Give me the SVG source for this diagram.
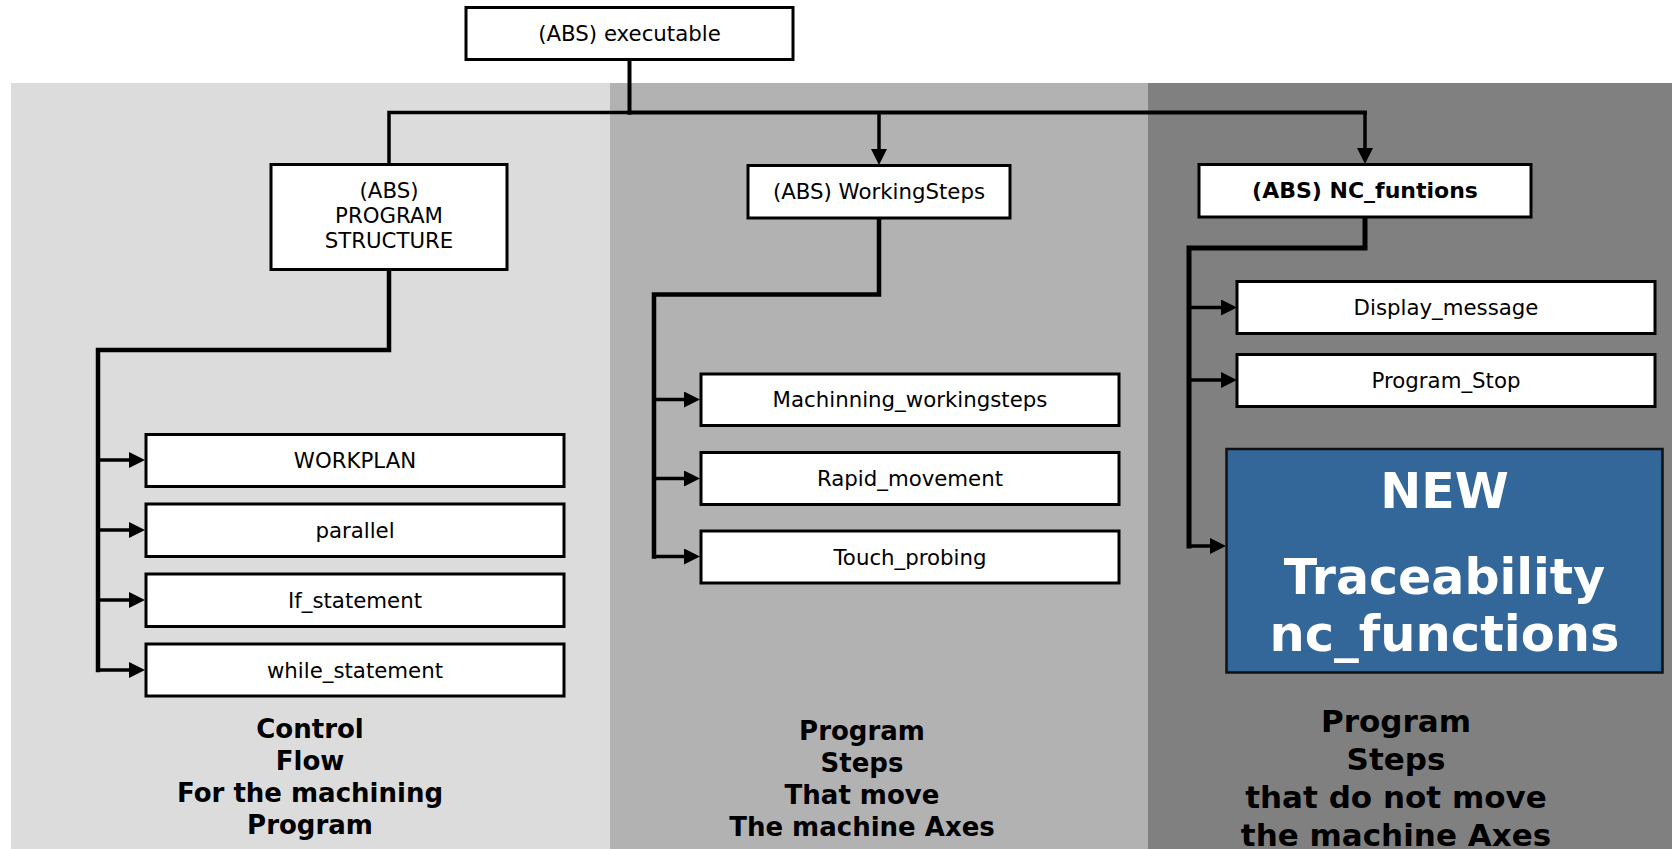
<svg xmlns="http://www.w3.org/2000/svg" width="1672" height="849" viewBox="0 0 1672 849">
<defs>
<style>
.box{fill:#ffffff;stroke:#000000;stroke-width:3}
.lbl{font-family:"DejaVu Sans","Verdana",sans-serif;font-size:21.3px;fill:#000000;text-anchor:middle}
.lblb{font-family:"DejaVu Sans","Verdana",sans-serif;font-size:22px;font-weight:bold;fill:#000000;text-anchor:middle}
.cap{font-family:"DejaVu Sans","Verdana",sans-serif;font-weight:bold;fill:#000000;text-anchor:middle}
.new{font-family:"DejaVu Sans","Verdana",sans-serif;font-weight:bold;font-size:49px;fill:#ffffff;text-anchor:middle}
.ln{fill:none;stroke:#000000;stroke-linejoin:miter;stroke-linecap:square}
.thin{stroke-width:3.5}
.thick{stroke-width:4.5}
.stub{fill:none;stroke:#000000;stroke-width:3.5}
</style>
<marker id="ah" markerUnits="userSpaceOnUse" markerWidth="16" markerHeight="16" refX="6" refY="8" orient="auto">
<path d="M0,0 L16,8 L0,16 z" fill="#000000"/>
</marker>
</defs>

<g id="panels">
<rect x="11" y="83" width="599" height="766" fill="#dcdcdc"/>
<rect x="610" y="83" width="538" height="766" fill="#b2b2b2"/>
<rect x="1148" y="83" width="524" height="766" fill="#808080"/>
</g>

<g id="connectors">
<path class="ln" style="stroke-width:4" d="M629.5,60 V112.5"/>
<path class="ln thin" d="M389,164 V112.5 H629.5"/>
<path class="ln" style="stroke-width:4" d="M629.5,112.5 H1365"/>
<path class="stub" d="M879,112.5 V155" marker-end="url(#ah)"/>
<path class="stub" d="M1365,112.5 V154" marker-end="url(#ah)"/>

<path class="ln thick" d="M389,269 V350 H98 V670"/>
<path class="stub" d="M98,460 H135" marker-end="url(#ah)"/>
<path class="stub" d="M98,530 H135" marker-end="url(#ah)"/>
<path class="stub" d="M98,600 H135" marker-end="url(#ah)"/>
<path class="stub" d="M98,670 H135" marker-end="url(#ah)"/>

<path class="ln thick" d="M879,218 V294.5 H654 V556.5"/>
<path class="stub" d="M654,399.5 H690" marker-end="url(#ah)"/>
<path class="stub" d="M654,478.5 H690" marker-end="url(#ah)"/>
<path class="stub" d="M654,556.5 H690" marker-end="url(#ah)"/>

<path class="ln" style="stroke-width:5" d="M1365,217 V248 H1189 V546"/>
<path class="stub" d="M1189,307.5 H1227" marker-end="url(#ah)"/>
<path class="stub" d="M1189,380 H1227" marker-end="url(#ah)"/>
<path class="stub" d="M1189,546 H1216" marker-end="url(#ah)"/>
</g>

<g id="node-executable">
<rect class="box" x="466" y="7.5" width="327" height="52"/>
<text class="lbl" x="629.5" y="41">(ABS) executable</text>
</g>

<g id="node-program-structure">
<rect class="box" x="271" y="164.5" width="236" height="105"/>
<text class="lbl" x="389" y="197.5">(ABS)</text>
<text class="lbl" x="389" y="223">PROGRAM</text>
<text class="lbl" x="389" y="248">STRUCTURE</text>
</g>

<g id="node-workingsteps">
<rect class="box" x="748" y="165.5" width="262" height="52.5"/>
<text class="lbl" x="879" y="199">(ABS) WorkingSteps</text>
</g>

<g id="node-nc-funtions">
<rect class="box" x="1199" y="164.5" width="332" height="52.5"/>
<text class="lblb" x="1365" y="197.5">(ABS) NC_funtions</text>
</g>

<g id="node-workplan">
<rect class="box" x="146" y="434.5" width="418" height="52"/>
<text class="lbl" x="355" y="467.5">WORKPLAN</text>
</g>
<g id="node-parallel">
<rect class="box" x="146" y="504" width="418" height="52.5"/>
<text class="lbl" x="355" y="537.5">parallel</text>
</g>
<g id="node-if-statement">
<rect class="box" x="146" y="574" width="418" height="52.5"/>
<text class="lbl" x="355" y="607.5">If_statement</text>
</g>
<g id="node-while-statement">
<rect class="box" x="146" y="644" width="418" height="52"/>
<text class="lbl" x="355" y="677.5">while_statement</text>
</g>

<g id="node-machinning">
<rect class="box" x="701" y="374" width="418" height="51.5"/>
<text class="lbl" x="910" y="407">Machinning_workingsteps</text>
</g>
<g id="node-rapid">
<rect class="box" x="701" y="452.5" width="418" height="52"/>
<text class="lbl" x="910" y="486">Rapid_movement</text>
</g>
<g id="node-touch">
<rect class="box" x="701" y="531" width="418" height="52"/>
<text class="lbl" x="910" y="564.5">Touch_probing</text>
</g>

<g id="node-display">
<rect class="box" x="1237" y="281.5" width="418" height="52"/>
<text class="lbl" x="1446" y="314.5">Display_message</text>
</g>
<g id="node-program-stop">
<rect class="box" x="1237" y="354.5" width="418" height="52"/>
<text class="lbl" x="1446" y="387.5">Program_Stop</text>
</g>

<g id="node-new-traceability">
<rect x="1226.5" y="449" width="436" height="223.5" fill="#336699" stroke="#111111" stroke-width="2.5"/>
<text class="new" x="1444.5" y="508">NEW</text>
<text class="new" x="1444.5" y="594">Traceability</text>
<text class="new" style="font-size:49.5px" x="1444.5" y="651">nc_functions</text>
</g>

<g id="caption-left">
<text class="cap" style="font-size:26px" x="310" y="738">Control</text>
<text class="cap" style="font-size:26px" x="310" y="770">Flow</text>
<text class="cap" style="font-size:26px" x="310" y="802">For the machining</text>
<text class="cap" style="font-size:26px" x="310" y="834">Program</text>
</g>
<g id="caption-middle">
<text class="cap" style="font-size:26px" x="862" y="739.5">Program</text>
<text class="cap" style="font-size:26px" x="862" y="771.5">Steps</text>
<text class="cap" style="font-size:26px" x="862" y="803.5">That move</text>
<text class="cap" style="font-size:26px" x="862" y="835.5">The machine Axes</text>
</g>
<g id="caption-right">
<text class="cap" style="font-size:31px" x="1396" y="732">Program</text>
<text class="cap" style="font-size:31px" x="1396" y="770">Steps</text>
<text class="cap" style="font-size:31px" x="1396" y="808">that do not move</text>
<text class="cap" style="font-size:31px" x="1396" y="846">the machine Axes</text>
</g>
</svg>
